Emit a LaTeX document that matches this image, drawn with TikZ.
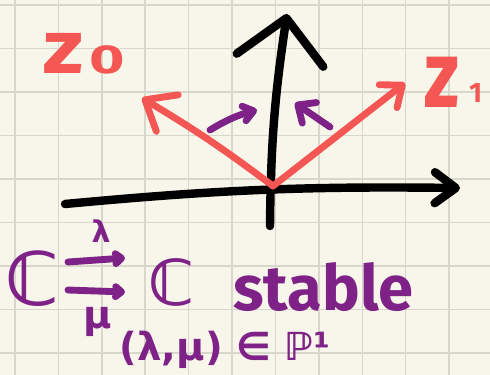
\documentclass[tikz,border=0pt]{standalone}
\usepackage{fontspec}
\setmainfont{Fira Sans}
\newfontfamily\symfont{DejaVu Sans}
\usetikzlibrary{arrows.meta, positioning}

\definecolor{paper}{HTML}{F8F6EA}
\definecolor{gridline}{HTML}{D8D7CC}
\definecolor{penred}{HTML}{F45753}
\definecolor{penpurple}{HTML}{7E2288}

\begin{document}
\begin{tikzpicture}[x=0.02cm, y=-0.02cm,
    axis/.style={draw=black, line width=4.8pt, line cap=round, line join=round},
    redpen/.style={draw=penred, line width=3.9pt, line cap=round, line join=round},
    purplepen/.style={draw=penpurple, line width=3.9pt, line cap=round, line join=round},
    ink/.style={inner sep=0pt, font=\bfseries}]
    \useasboundingbox (0,0) rectangle (490,375);

    % Giấy kẻ ô
    \fill[paper] (0,0) rectangle (490,375);
    \foreach \k in {0,...,11}
        \draw[gridline, line width=0.8pt] ({15+43.4*\k},0) -- ({15+43.4*\k},375);
    \foreach \k in {0,...,8}
        \draw[gridline, line width=0.8pt] (0,{5+43.5*\k}) -- (490,{5+43.5*\k});

    % Trục tọa độ
    \coordinate (O) at (273,186);
    \coordinate (xstart) at (65,204);
    \coordinate (xtip) at (460,188);
    \coordinate (ystart) at (270,226);
    \coordinate (ytip) at (287,14);
    \draw[axis, -{Straight Barb[round, length=0.42cm, width=0.62cm]}] (xstart) to[bend left=3] (xtip);
    \draw[axis, -{Straight Barb[round, length=0.85cm, width=1.75cm]}] (ystart) to[bend left=4] (ytip);

    % Hai vectơ z0, z1
    \coordinate (zotip) at (142,98);
    \coordinate (zitip) at (405,83);
    \draw[redpen, -{Straight Barb[round, length=0.52cm, width=0.85cm]}] (O) to[bend right=3] (zotip);
    \draw[redpen, -{Straight Barb[round, length=0.36cm, width=0.58cm]}] (O) -- (zitip);
    \node[ink, text=penred, anchor=base west] (zo) at (43,73)
        {\fontsize{43}{43}\selectfont\scalebox{1.15}[1]{z}\hspace{0.12cm}%
         \fontsize{23}{23}\selectfont\scalebox{1.5}[1]{0}};
    \node[ink, text=penred, anchor=base west] (zi) at (424,108)
        {\fontsize{54}{54}\selectfont\scalebox{0.8}[1]{z}\hspace{0.2cm}%
         \raisebox{0.1cm}{\fontsize{16}{16}\selectfont 1}};

    % Mũi tên tím nhỏ
    \coordinate (pla) at (210,130);
    \coordinate (plb) at (257,110);
    \coordinate (pra) at (330,127);
    \coordinate (prb) at (295,103);
    \draw[purplepen, -{Straight Barb[round, length=0.2cm, width=0.3cm]}] (pla) to[bend left=8] (plb);
    \draw[purplepen, -{Straight Barb[round, length=0.28cm, width=0.5cm]}] (pra) -- (prb);

    % Dòng chữ phía dưới
    \node[ink, text=penpurple] (Cl) at (33,279) {\symfont\bfseries\fontsize{42}{42}\selectfont ℂ};
    \node[ink, text=penpurple] (Cr) at (172,282) {\symfont\bfseries\fontsize{36}{36}\selectfont ℂ};
    \coordinate (la) at (68,262);
    \coordinate (lb) at (125,258);
    \coordinate (ma) at (68,290);
    \coordinate (mb) at (125,292);
    \draw[purplepen, -{Straight Barb[round, length=0.12cm, width=0.2cm]}] (la) -- (lb);
    \draw[purplepen, -{Straight Barb[round, length=0.12cm, width=0.2cm]}] (ma) -- (mb);
    \node[ink, text=penpurple] (lam) at (101,231) {\symfont\bfseries\fontsize{17}{17}\selectfont λ};
    \node[ink, text=penpurple] (mu) at (98,322) {\symfont\bfseries\fontsize{22}{22}\selectfont μ};
    \node[ink, text=penpurple, anchor=base west] (stable) at (233,310)
        {\fontsize{36}{36}\selectfont stable};
    \node[ink, text=penpurple] (pair) at (225,350)
        {\symfont\bfseries\fontsize{22}{22}\selectfont (λ,μ) ∈ ℙ¹};
\end{tikzpicture}
\end{document}
